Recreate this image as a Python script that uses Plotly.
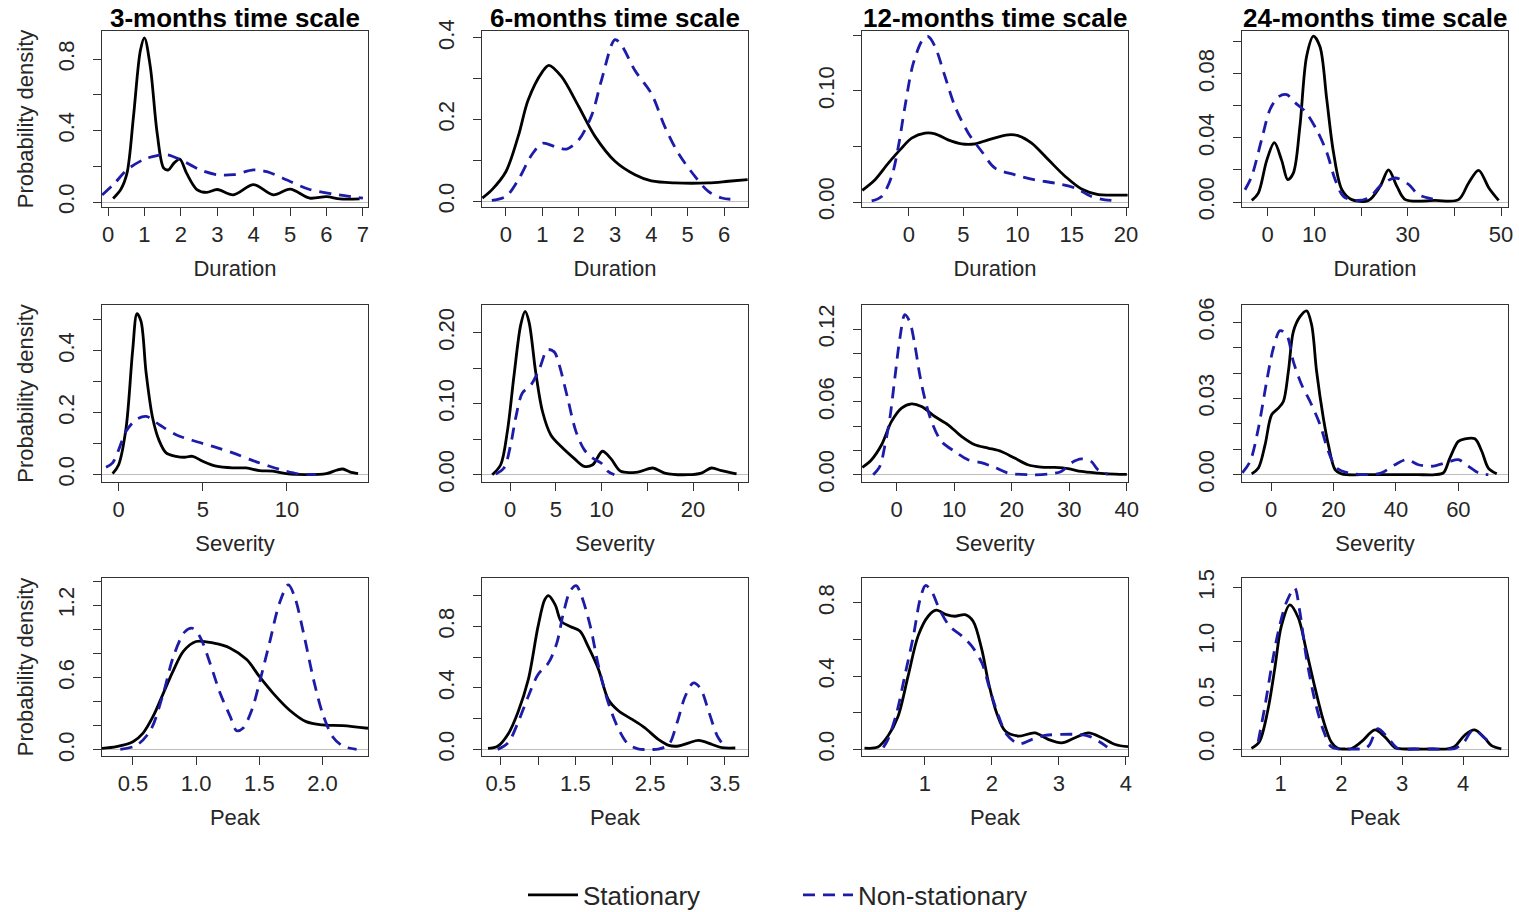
import plotly.graph_objects as go

# ---------------- data ----------------
# Duration, 3-months
dur3_stat_x = [0.14, 0.35, 0.52, 0.7, 0.89, 1.0, 1.16, 1.35, 1.53, 1.66, 1.8, 1.97, 2.16, 2.44, 2.71, 3.0, 3.44, 4.0, 4.54, 5.0, 5.54, 6.0, 6.37, 6.91]
dur3_stat_y = [0.02, 0.07, 0.16, 0.48, 0.85, 0.92, 0.76, 0.385, 0.19, 0.18, 0.215, 0.24, 0.16, 0.07, 0.054, 0.07, 0.04, 0.097, 0.04, 0.072, 0.022, 0.03, 0.017, 0.017]
dur3_non_x = [-0.16, 0.16, 0.52, 1.0, 1.35, 1.62, 2.0, 2.53, 3.0, 3.44, 4.0, 4.36, 5.0, 5.54, 6.18, 7.0]
dur3_non_y = [0.04, 0.1, 0.18, 0.24, 0.26, 0.265, 0.236, 0.18, 0.153, 0.153, 0.18, 0.17, 0.115, 0.07, 0.045, 0.022]

# Duration, 6-months
dur6_stat_x = [-0.65, -0.39, 0.0, 0.34, 0.61, 1.0, 1.18, 1.53, 2.0, 2.45, 3.0, 3.55, 4.0, 4.65, 5.57, 6.12, 6.65]
dur6_stat_y = [0.008, 0.028, 0.073, 0.16, 0.248, 0.317, 0.333, 0.305, 0.232, 0.159, 0.098, 0.065, 0.05, 0.045, 0.045, 0.049, 0.053]
dur6_non_x = [-0.39, 0.0, 0.34, 0.71, 1.0, 1.35, 1.67, 2.0, 2.36, 2.63, 3.0, 3.18, 3.55, 4.0, 4.37, 4.74, 5.2, 5.57, 5.94, 6.39]
dur6_non_y = [0.002, 0.012, 0.053, 0.114, 0.142, 0.134, 0.128, 0.15, 0.211, 0.297, 0.396, 0.382, 0.32, 0.264, 0.183, 0.118, 0.061, 0.024, 0.008, 0.004]

# Duration, 12-months
dur12_stat_x = [-4.3, -3.13, -1.9, -0.68, 0.25, 1.47, 2.4, 3.6, 4.85, 6.08, 7.3, 9.15, 10.1, 11.3, 12.85, 14.4, 15.9, 17.45, 18.7, 20.15]
dur12_stat_y = [0.0105, 0.02, 0.035, 0.0485, 0.0575, 0.062, 0.0614, 0.056, 0.0524, 0.0524, 0.056, 0.0605, 0.0596, 0.053, 0.038, 0.023, 0.0117, 0.0066, 0.0062, 0.0062]
dur12_non_x = [-3.44, -2.52, -1.6, -0.98, -0.37, 0.4, 1.32, 1.78, 2.4, 3.32, 4.24, 5.47, 6.7, 7.93, 9.77, 11.6, 13.46, 15.3, 16.8, 18.06, 19.3]
dur12_non_y = [0.001, 0.005, 0.023, 0.05, 0.086, 0.125, 0.147, 0.149, 0.14, 0.113, 0.086, 0.062, 0.0455, 0.0305, 0.0245, 0.02, 0.017, 0.0126, 0.005, 0.002, 0.001]

# Duration, 24-months
dur24_stat_x = [-3.4, -2.0, -0.2, 1.43, 3.0, 4.3, 5.5, 6.9, 8.35, 9.8, 11.2, 12.66, 14.1, 15.9, 18.0, 21.6, 24.1, 25.9, 27.7, 29.5, 35.9, 40.9, 43.06, 45.2, 47.4, 49.5]
dur24_stat_y = [0.001, 0.0056, 0.026, 0.037, 0.026, 0.014, 0.018, 0.047, 0.091, 0.1035, 0.097, 0.064, 0.031, 0.0077, 0.0015, 0.001, 0.0098, 0.02, 0.0098, 0.0015, 0.001, 0.0015, 0.0119, 0.0198, 0.0088, 0.001]
dur24_non_x = [-4.86, -3.43, -1.29, 0.5, 2.29, 4.08, 5.87, 8.0, 10.5, 12.66, 14.45, 16.24, 18.74, 21.6, 24.5, 27.3, 30.2, 32.3, 35.2, 36.6]
dur24_non_y = [0.0077, 0.016, 0.039, 0.0577, 0.0656, 0.067, 0.062, 0.0567, 0.045, 0.031, 0.014, 0.0035, 0.001, 0.0025, 0.011, 0.015, 0.011, 0.0046, 0.002, 0.001]

# Severity, 3-months
sev3_stat_x = [-0.36, 0.0, 0.44, 0.83, 1.09, 1.33, 1.63, 2.02, 2.42, 2.82, 3.41, 3.9, 4.4, 5.0, 5.8, 6.79, 7.58, 8.37, 9.17, 9.96, 11.15, 12.34, 12.94, 13.33, 13.73, 14.23]
sev3_stat_y = [0.003, 0.032, 0.15, 0.40, 0.52, 0.495, 0.33, 0.183, 0.108, 0.07, 0.059, 0.056, 0.059, 0.043, 0.027, 0.0215, 0.0215, 0.013, 0.011, 0.003, 0.0, 0.003, 0.014, 0.018, 0.009, 0.003]
sev3_non_x = [-0.75, -0.36, 0.0, 0.44, 1.03, 1.63, 2.42, 3.41, 4.4, 5.6, 6.79, 7.98, 8.97, 9.96, 10.75, 11.75]
sev3_non_y = [0.024, 0.038, 0.08, 0.14, 0.177, 0.188, 0.161, 0.129, 0.11, 0.091, 0.07, 0.045, 0.027, 0.011, 0.002, 0.0]

# Severity, 6-months
sev6_stat_x = [-1.94, -1.02, -0.29, 0.44, 1.17, 1.65, 2.08, 2.8, 3.55, 4.46, 5.56, 7.0, 8.1, 9.03, 10.1, 11.0, 12.1, 13.97, 15.6, 16.9, 19.45, 20.9, 22.0, 23.1, 24.75]
sev6_stat_y = [0.0, 0.014, 0.061, 0.14, 0.211, 0.23, 0.215, 0.145, 0.089, 0.056, 0.04, 0.023, 0.0117, 0.014, 0.033, 0.023, 0.0047, 0.0037, 0.0094, 0.0023, 0.0, 0.0023, 0.0094, 0.0056, 0.001]
sev6_non_x = [-1.57, -0.66, 0.07, 0.62, 1.35, 2.27, 3.18, 4.1, 4.83, 5.37, 6.29, 7.2, 8.12, 9.03, 9.95, 10.7, 11.4]
sev6_non_y = [0.001, 0.0094, 0.042, 0.08, 0.115, 0.126, 0.148, 0.176, 0.173, 0.155, 0.108, 0.061, 0.035, 0.0234, 0.0164, 0.0047, 0.0]

# Severity, 12-months
sev12_stat_x = [-5.95, -4.34, -2.6, -0.87, 0.87, 2.6, 4.34, 6.65, 8.96, 11.27, 13.6, 15.9, 18.2, 20.5, 22.8, 25.1, 27.5, 29.8, 32.1, 35.0, 37.9, 40.0]
sev12_stat_y = [0.006, 0.0124, 0.0247, 0.044, 0.055, 0.0585, 0.0563, 0.048, 0.0412, 0.0316, 0.0247, 0.022, 0.0192, 0.0137, 0.0082, 0.0063, 0.006, 0.005, 0.0027, 0.0014, 0.0005, 0.0003]
sev12_non_x = [-4.05, -2.9, -2.0, -1.16, -0.29, 0.58, 1.45, 2.3, 3.18, 4.05, 4.9, 6.07, 7.8, 10.1, 12.4, 14.7, 17.05, 19.4, 22.8, 26.3, 28.6, 30.3, 32.1, 33.8, 35.0, 36.7]
sev12_non_y = [0.0, 0.0069, 0.0247, 0.0467, 0.08, 0.1126, 0.132, 0.126, 0.107, 0.082, 0.063, 0.044, 0.0275, 0.0192, 0.0124, 0.01, 0.006, 0.0014, 0.0, 0.0005, 0.0027, 0.0096, 0.013, 0.011, 0.004, 0.0005]

# Severity, 24-months
sev24_stat_x = [-6.2, -4.05, -1.9, 0.2, 2.35, 3.95, 5.55, 7.15, 9.28, 11.4, 13.0, 14.6, 16.75, 18.35, 20.5, 22.6, 31.2, 40.0, 47.0, 52.5, 55.2, 57.3, 60.0, 62.1, 65.3, 67.5, 69.6, 72.3]
sev24_stat_y = [0.0003, 0.0026, 0.0118, 0.0236, 0.0262, 0.0288, 0.0406, 0.0563, 0.0622, 0.0645, 0.059, 0.0406, 0.0223, 0.0118, 0.002, 0.0003, 0.0, 0.0, 0.0, 0.0, 0.0007, 0.0066, 0.0131, 0.0141, 0.0141, 0.0092, 0.0026, 0.0003]
sev24_non_x = [-9.2, -6.7, -4.05, -1.4, 0.75, 2.9, 5.0, 7.15, 9.8, 12.5, 15.7, 18.35, 21.0, 24.8, 31.2, 35.4, 39.7, 43.4, 47.2, 51.4, 56.8, 60.0, 63.2, 66.4, 69.6]
sev24_non_y = [0.0007, 0.0052, 0.0183, 0.0367, 0.0498, 0.0567, 0.055, 0.0445, 0.0354, 0.0288, 0.0197, 0.0092, 0.0026, 0.0007, 0.0, 0.0007, 0.0039, 0.0059, 0.0039, 0.0033, 0.005, 0.0059, 0.0033, 0.0007, 0.0]

# Peak, 3-months
peak3_stat_x = [0.255, 0.37, 0.5, 0.58, 0.66, 0.74, 0.82, 0.9, 1.0, 1.14, 1.27, 1.4, 1.5, 1.61, 1.74, 1.87, 2.0, 2.16, 2.36]
peak3_stat_y = [0.014, 0.028, 0.069, 0.14, 0.28, 0.47, 0.66, 0.82, 0.9, 0.886, 0.845, 0.75, 0.61, 0.47, 0.33, 0.235, 0.208, 0.202, 0.18]
peak3_non_x = [0.4, 0.53, 0.64, 0.74, 0.82, 0.91, 0.97, 1.03, 1.11, 1.19, 1.27, 1.32, 1.37, 1.44, 1.5, 1.58, 1.66, 1.73, 1.78, 1.85, 1.93, 2.0, 2.08, 2.16, 2.27]
peak3_non_y = [0.005, 0.04, 0.166, 0.47, 0.776, 0.98, 1.01, 0.94, 0.72, 0.47, 0.277, 0.16, 0.18, 0.33, 0.554, 0.886, 1.22, 1.37, 1.27, 0.97, 0.58, 0.305, 0.11, 0.033, 0.005]

# Peak, 6-months
peak6_stat_x = [0.33, 0.46, 0.6, 0.73, 0.87, 1.0, 1.09, 1.14, 1.23, 1.31, 1.43, 1.56, 1.67, 1.81, 1.94, 2.08, 2.26, 2.43, 2.61, 2.75, 2.88, 3.02, 3.15, 3.33, 3.46, 3.64]
peak6_stat_y = [0.006, 0.02, 0.1, 0.24, 0.455, 0.8, 0.974, 1.0, 0.94, 0.833, 0.8, 0.77, 0.67, 0.52, 0.325, 0.25, 0.195, 0.14, 0.065, 0.026, 0.022, 0.043, 0.058, 0.032, 0.011, 0.009]
peak6_non_x = [0.46, 0.6, 0.73, 0.87, 1.0, 1.14, 1.25, 1.34, 1.43, 1.51, 1.58, 1.7, 1.81, 1.94, 2.08, 2.21, 2.35, 2.48, 2.61, 2.75, 2.86, 2.97, 3.08, 3.17, 3.29, 3.4, 3.51]
peak6_non_y = [0.0, 0.043, 0.173, 0.346, 0.487, 0.563, 0.69, 0.887, 1.03, 1.065, 1.0, 0.8, 0.54, 0.303, 0.13, 0.032, 0.002, 0.0, 0.002, 0.032, 0.173, 0.346, 0.433, 0.4, 0.238, 0.087, 0.011]

# Peak, 12-months
peak12_stat_x = [0.1, 0.3, 0.45, 0.6, 0.75, 0.9, 1.05, 1.17, 1.32, 1.45, 1.6, 1.72, 1.85, 1.95, 2.07, 2.2, 2.4, 2.64, 2.84, 3.04, 3.24, 3.44, 3.64, 3.84, 4.03]
peak12_stat_y = [0.007, 0.013, 0.073, 0.18, 0.4, 0.62, 0.727, 0.76, 0.736, 0.727, 0.736, 0.7, 0.545, 0.364, 0.2, 0.1, 0.073, 0.09, 0.055, 0.036, 0.064, 0.09, 0.064, 0.027, 0.015]
peak12_non_x = [0.38, 0.45, 0.58, 0.7, 0.83, 0.93, 1.01, 1.1, 1.22, 1.37, 1.55, 1.7, 1.85, 1.97, 2.1, 2.22, 2.4, 2.6, 2.79, 3.04, 3.24, 3.44, 3.59, 3.72]
peak12_non_y = [0.01, 0.055, 0.2, 0.4, 0.62, 0.82, 0.895, 0.864, 0.764, 0.673, 0.62, 0.564, 0.473, 0.327, 0.182, 0.082, 0.031, 0.055, 0.076, 0.082, 0.082, 0.073, 0.045, 0.013]

# Peak, 24-months
peak24_stat_x = [0.52, 0.65, 0.79, 0.9, 1.01, 1.15, 1.29, 1.42, 1.56, 1.7, 1.83, 1.94, 2.05, 2.16, 2.33, 2.55, 2.71, 2.88, 2.99, 3.2, 3.5, 3.75, 3.86, 4.03, 4.19, 4.36, 4.47, 4.63]
peak24_stat_y = [0.006, 0.068, 0.363, 0.736, 1.14, 1.34, 1.22, 0.922, 0.58, 0.27, 0.068, 0.006, 0.0, 0.002, 0.068, 0.177, 0.115, 0.012, 0.002, 0.0, 0.0, 0.002, 0.022, 0.13, 0.177, 0.1, 0.031, 0.002]
peak24_non_x = [0.63, 0.74, 0.85, 0.96, 1.09, 1.23, 1.31, 1.42, 1.56, 1.7, 1.83, 1.94, 2.1, 2.25, 2.38, 2.46, 2.6, 2.77, 2.93, 3.2, 3.5, 3.75, 3.86, 4.0, 4.17, 4.36, 4.5]
peak24_non_y = [0.068, 0.394, 0.767, 1.09, 1.357, 1.497, 1.295, 0.86, 0.457, 0.177, 0.022, 0.002, 0.0, 0.0, 0.004, 0.037, 0.19, 0.1, 0.004, 0.0, 0.0, 0.0, 0.004, 0.053, 0.177, 0.1, 0.022]

# ---------------- tick values and labels ----------------
col_titles = ["3-months time scale", "6-months time scale", "12-months time scale", "24-months time scale"]
row_vars = ["Duration", "Severity", "Peak"]
series_names = ["Stationary", "Non-stationary"]

dur3_xt = [0, 1, 2, 3, 4, 5, 6, 7];          dur3_xl = ["0", "1", "2", "3", "4", "5", "6", "7"]
dur3_yt = [0, 0.2, 0.4, 0.6, 0.8];          dur3_yl = ["0.0", "", "0.4", "", "0.8"]
dur6_xt = [0, 1, 2, 3, 4, 5, 6];             dur6_xl = ["0", "1", "2", "3", "4", "5", "6"]
dur6_yt = [0, 0.1, 0.2, 0.3, 0.4];          dur6_yl = ["0.0", "", "0.2", "", "0.4"]
dur12_xt = [0, 5, 10, 15, 20];               dur12_xl = ["0", "5", "10", "15", "20"]
dur12_yt = [0, 0.05, 0.10, 0.15];            dur12_yl = ["0.00", "", "0.10", ""]
dur24_xt = [0, 10, 20, 30, 40, 50];          dur24_xl = ["0", "10", "", "30", "", "50"]
dur24_yt = [0, 0.02, 0.04, 0.06, 0.08, 0.10]; dur24_yl = ["0.00", "", "0.04", "", "0.08", ""]

sev3_xt = [0, 5, 10];                        sev3_xl = ["0", "5", "10"]
sev3_yt = [0, 0.1, 0.2, 0.3, 0.4, 0.5];      sev3_yl = ["0.0", "", "0.2", "", "0.4", ""]
sev6_xt = [0, 5, 10, 15, 20, 25];            sev6_xl = ["0", "5", "10", "", "20", ""]
sev6_yt = [0, 0.05, 0.10, 0.15, 0.20];       sev6_yl = ["0.00", "", "0.10", "", "0.20"]
sev12_xt = [0, 10, 20, 30, 40];              sev12_xl = ["0", "10", "20", "30", "40"]
sev12_yt = [0, 0.02, 0.04, 0.06, 0.08, 0.10, 0.12]; sev12_yl = ["0.00", "", "", "0.06", "", "", "0.12"]
sev24_xt = [0, 20, 40, 60];                  sev24_xl = ["0", "20", "40", "60"]
sev24_yt = [0, 0.01, 0.02, 0.03, 0.04, 0.05, 0.06]; sev24_yl = ["0.00", "", "", "0.03", "", "", "0.06"]

peak3_xt = [0.5, 1.0, 1.5, 2.0];             peak3_xl = ["0.5", "1.0", "1.5", "2.0"]
peak3_yt = [0, 0.2, 0.4, 0.6, 0.8, 1.0, 1.2, 1.4]; peak3_yl = ["0.0", "", "", "0.6", "", "", "1.2", ""]
peak6_xt = [0.5, 1.0, 1.5, 2.0, 2.5, 3.0, 3.5]; peak6_xl = ["0.5", "", "1.5", "", "2.5", "", "3.5"]
peak6_yt = [0, 0.2, 0.4, 0.6, 0.8, 1.0];     peak6_yl = ["0.0", "", "0.4", "", "0.8", ""]
peak12_xt = [1, 2, 3, 4];                    peak12_xl = ["1", "2", "3", "4"]
peak12_yt = [0, 0.2, 0.4, 0.6, 0.8];         peak12_yl = ["0.0", "", "0.4", "", "0.8"]
peak24_xt = [1, 2, 3, 4];                    peak24_xl = ["1", "2", "3", "4"]
peak24_yt = [0, 0.5, 1.0, 1.5];              peak24_yl = ["0.0", "0.5", "1.0", "1.5"]

# ---------------- panel assembly (row-major) ----------------
panels = [
    (dur3_stat_x, dur3_stat_y, dur3_non_x, dur3_non_y, dur3_xt, dur3_xl, dur3_yt, dur3_yl, [-0.165, 7.14], [-0.028, 0.958]),
    (dur6_stat_x, dur6_stat_y, dur6_non_x, dur6_non_y, dur6_xt, dur6_xl, dur6_yt, dur6_yl, [-0.66, 6.66], [-0.014, 0.417]),
    (dur12_stat_x, dur12_stat_y, dur12_non_x, dur12_non_y, dur12_xt, dur12_xl, dur12_yt, dur12_yl, [-4.33, 20.18], [-0.0045, 0.154]),
    (dur24_stat_x, dur24_stat_y, dur24_non_x, dur24_non_y, dur24_xt, dur24_xl, dur24_yt, dur24_yl, [-5.5, 51.5], [-0.0031, 0.1067]),
    (sev3_stat_x, sev3_stat_y, sev3_non_x, sev3_non_y, sev3_xt, sev3_xl, sev3_yt, sev3_yl, [-0.99, 14.82], [-0.024, 0.548]),
    (sev6_stat_x, sev6_stat_y, sev6_non_x, sev6_non_y, sev6_xt, sev6_xl, sev6_yt, sev6_yl, [-3.06, 26.0], [-0.0103, 0.239]),
    (sev12_stat_x, sev12_stat_y, sev12_non_x, sev12_non_y, sev12_xt, sev12_xl, sev12_yt, sev12_yl, [-6.0, 40.2], [-0.006, 0.140]),
    (sev24_stat_x, sev24_stat_y, sev24_non_x, sev24_non_y, sev24_xt, sev24_xl, sev24_yt, sev24_yl, [-9.3, 75.9], [-0.0029, 0.0668]),
    (peak3_stat_x, peak3_stat_y, peak3_non_x, peak3_non_y, peak3_xt, peak3_xl, peak3_yt, peak3_yl, [0.255, 2.36], [-0.05, 1.427]),
    (peak6_stat_x, peak6_stat_y, peak6_non_x, peak6_non_y, peak6_xt, peak6_xl, peak6_yt, peak6_yl, [0.25, 3.81], [-0.043, 1.115]),
    (peak12_stat_x, peak12_stat_y, peak12_non_x, peak12_non_y, peak12_xt, peak12_xl, peak12_yt, peak12_yl, [0.063, 4.03], [-0.036, 0.936]),
    (peak24_stat_x, peak24_stat_y, peak24_non_x, peak24_non_y, peak24_xt, peak24_xl, peak24_yt, peak24_yl, [0.364, 4.74], [-0.065, 1.59]),
]

# ---------------- layout geometry / style ----------------
W, H = 1519, 912
COL_PX = [(102, 368), (482, 748), (862, 1128), (1242, 1508)]   # page pixels
ROW_PX = [(31, 207), (305, 482), (578, 756)]


def px(v):
    return v / W


def py(v):
    return 1 - v / H


BLUE = "#1c1ca8"
FRAME = "#333333"
TXT = "#262626"
FONT = "Liberation Sans, Arial, sans-serif"

fig = go.Figure()
layout = {}
for i, (sx, sy, nx, ny, xt, xl, yt, yl, xr, yr) in enumerate(panels):
    r, c = divmod(i, 4)
    k = i + 1
    xs = "x" if k == 1 else f"x{k}"
    ys = "y" if k == 1 else f"y{k}"
    fig.add_trace(go.Scatter(
        x=sx, y=sy, mode="lines", name=series_names[0], legend="legend",
        showlegend=(k == 1), xaxis=xs, yaxis=ys, hoverinfo="skip",
        line=dict(color="black", width=2.8, shape="spline", smoothing=0.9)))
    fig.add_trace(go.Scatter(
        x=nx, y=ny, mode="lines", name=series_names[1], legend="legend2",
        showlegend=(k == 1), xaxis=xs, yaxis=ys, hoverinfo="skip",
        line=dict(color=BLUE, width=2.8, dash="12px,8px", shape="spline", smoothing=0.9)))

    x0, x1 = COL_PX[c]
    y0, y1 = ROW_PX[r]
    xkey = "xaxis" if k == 1 else f"xaxis{k}"
    ykey = "yaxis" if k == 1 else f"yaxis{k}"
    layout[xkey] = dict(
        domain=[px(x0), px(x1)], anchor=ys, range=xr,
        tickmode="array", tickvals=xt, ticktext=xl,
        showline=True, mirror=True, linecolor=FRAME, linewidth=1,
        ticks="outside", ticklen=8, tickcolor=FRAME, tickwidth=1,
        ticklabelstandoff=0,
        tickfont=dict(family=FONT, size=22, color=TXT),
        showgrid=False, zeroline=False,
        title=dict(text=row_vars[r], font=dict(family=FONT, size=22, color=TXT), standoff=14),
    )
    layout[ykey] = dict(
        domain=[py(y1), py(y0)], anchor=xs, range=yr,
        tickmode="array", tickvals=yt, ticktext=yl, tickangle=-90,
        showline=True, mirror=True, linecolor=FRAME, linewidth=1,
        ticks="outside", ticklen=8, tickcolor=FRAME, tickwidth=1,
        ticklabelstandoff=10,
        tickfont=dict(family=FONT, size=22, color=TXT),
        showgrid=False, zeroline=True, zerolinecolor="#bebebe", zerolinewidth=1,
        title=dict(text="Probability density" if c == 0 else "",
                   font=dict(family=FONT, size=22, color=TXT), standoff=14),
    )

annotations = []
for c, t in enumerate(col_titles):
    x0, x1 = COL_PX[c]
    annotations.append(dict(
        text=f"<b>{t}</b>", x=px((x0 + x1) / 2), y=py(18), xref="paper", yref="paper",
        xanchor="center", yanchor="middle", showarrow=False,
        font=dict(family=FONT, size=26, color="black")))

fig.update_layout(
    width=W, height=H,
    margin=dict(l=0, r=0, t=0, b=0, pad=0, autoexpand=False),
    paper_bgcolor="white", plot_bgcolor="white",
    annotations=annotations,
    legend=dict(orientation="h", x=px(523), xanchor="left", y=py(895), yanchor="middle",
                itemwidth=50, font=dict(family=FONT, size=26, color=TXT), bgcolor="rgba(0,0,0,0)"),
    legend2=dict(orientation="h", x=px(798), xanchor="left", y=py(895), yanchor="middle",
                 itemwidth=50, font=dict(family=FONT, size=26, color=TXT), bgcolor="rgba(0,0,0,0)"),
    **layout,
)

# remove the browser's default 8px body margin so the figure fills the window exactly
fig.write_html("out.html", config={"displayModeBar": False},
               post_script="document.body.style.margin='0';")
